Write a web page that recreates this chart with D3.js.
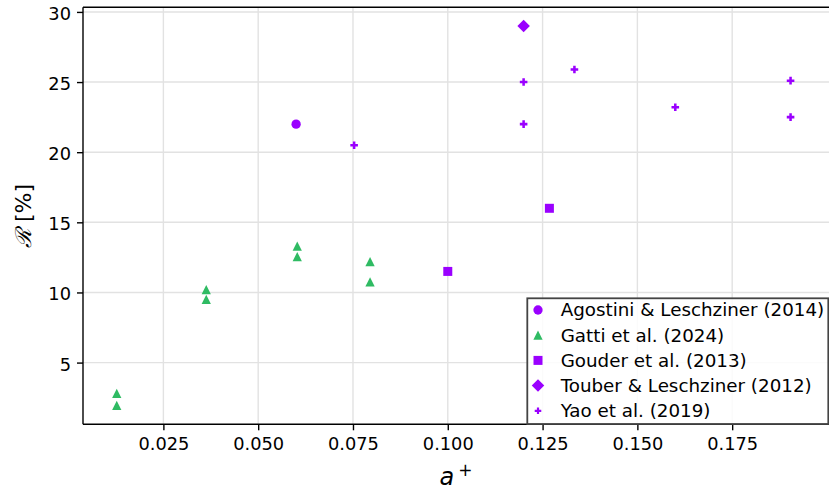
<!DOCTYPE html>
<html>
<head>
<meta charset="utf-8">
<script src="https://cdn.jsdelivr.net/npm/d3@7"></script>
<style>
  body { margin: 0; background: #fff; }
  text { font-family: "DejaVu Sans", sans-serif; fill: #000; }
</style>
</head>
<body>
<div id="chart"></div>
<script>
// drag reduction R [%] against actuation amplitude a+
var agostiniA = [0.060];
var agostiniR = [22.0];

var gattiA = [0.0127, 0.0127, 0.0363, 0.0363, 0.0603, 0.0603, 0.0795, 0.0795];
var gattiR = [2.8, 1.95, 10.2, 9.5, 13.3, 12.55, 12.2, 10.75];

var gouderA = [0.100, 0.1268];
var gouderR = [11.5, 16.0];

var touberA = [0.120];
var touberR = [29.0];

var yaoA = [0.0753, 0.120, 0.120, 0.1334, 0.160, 0.1904, 0.1904];
var yaoR = [20.5, 25.0, 22.0, 25.9, 23.2, 25.1, 22.5];

var xTicks = [0.025, 0.050, 0.075, 0.100, 0.125, 0.150, 0.175];
var yTicks = [5, 10, 15, 20, 25, 30];

var seriesNames = ["Agostini & Leschziner (2014)", "Gatti et al. (2024)",
  "Gouder et al. (2013)", "Touber & Leschziner (2012)", "Yao et al. (2019)"];

var purple = "#9a00ff";
var green = "#2fbb63";

var svgWidth = 829, svgHeight = 490;
var margin = {top: 7.3, right: 829, bottom: 424.3, left: 83};

var svg = d3.select("#chart").append("svg")
    .attr("width", svgWidth)
    .attr("height", svgHeight);

var xScale = d3.scaleLinear().domain([0.0038, 0.2008]).range([margin.left, 830]);
var yScale = d3.scaleLinear().domain([0.6, 30.33]).range([margin.bottom, margin.top]);

// grid
svg.append("g").selectAll("line").data(xTicks).enter().append("line")
    .attr("x1", d => xScale(d)).attr("x2", d => xScale(d))
    .attr("y1", margin.top).attr("y2", margin.bottom)
    .attr("stroke", "#e2e2e2").attr("stroke-width", 1.4);
svg.append("g").selectAll("line").data(yTicks).enter().append("line")
    .attr("x1", margin.left).attr("x2", 830)
    .attr("y1", d => yScale(d)).attr("y2", d => yScale(d))
    .attr("stroke", "#e2e2e2").attr("stroke-width", 1.4);

// axes
var xAxis = d3.axisBottom(xScale).tickValues(xTicks).tickFormat(d3.format(".3f"))
    .tickSizeInner(6).tickSizeOuter(0).tickPadding(6);
var yAxis = d3.axisLeft(yScale).tickValues(yTicks).tickFormat(d3.format("d"))
    .tickSizeInner(6).tickSizeOuter(0).tickPadding(6);

var gx = svg.append("g").attr("transform", `translate(0, ${margin.bottom})`).call(xAxis);
var gy = svg.append("g").attr("transform", `translate(${margin.left}, 0)`).call(yAxis);

[gx, gy].forEach(function(g) {
  g.select(".domain").remove();
  g.selectAll(".tick line").attr("stroke", "#000").attr("stroke-width", 1.4);
  g.selectAll(".tick text").style("font-size", "17.8px").attr("fill", "#000");
});
gx.selectAll(".tick text").attr("dy", "0.76em");
gy.selectAll(".tick text").attr("dy", "0.42em");

// spines
svg.append("line").attr("x1", margin.left).attr("x2", margin.left)
    .attr("y1", margin.top).attr("y2", margin.bottom)
    .attr("stroke", "#000").attr("stroke-width", 1.4);
svg.append("line").attr("x1", margin.left).attr("x2", 830)
    .attr("y1", margin.bottom).attr("y2", margin.bottom)
    .attr("stroke", "#000").attr("stroke-width", 1.4);
svg.append("line").attr("x1", margin.left).attr("x2", 830)
    .attr("y1", margin.top).attr("y2", margin.top)
    .attr("stroke", "#000").attr("stroke-width", 1.4);

// marker shapes
var triangleUp = {
  draw: function(context, size) {
    var h = Math.sqrt(size) / 2;
    context.moveTo(0, -h);
    context.lineTo(h, h);
    context.lineTo(-h, h);
    context.closePath();
  }
};
var shapes = [
  {path: d3.symbol(d3.symbolCircle, 68)(), rot: 0, color: purple},
  {path: d3.symbol(triangleUp, 86)(), rot: 0, color: green},
  {path: d3.symbol(d3.symbolSquare, 81)(), rot: 0, color: purple},
  {path: d3.symbol(d3.symbolSquare, 78)(), rot: 45, color: purple},
  {path: d3.symbol(d3.symbolCross, 32)(), rot: 0, color: purple}
];

var series = [
  {a: agostiniA, r: agostiniR},
  {a: gattiA, r: gattiR},
  {a: gouderA, r: gouderR},
  {a: touberA, r: touberR},
  {a: yaoA, r: yaoR}
];

series.forEach(function(s, i) {
  var pts = s.a.map((a, j) => ({a: a, r: s.r[j]}));
  svg.append("g").selectAll("path").data(pts).enter().append("path")
      .attr("d", shapes[i].path)
      .attr("fill", shapes[i].color)
      .attr("transform", d => `translate(${xScale(d.a)}, ${yScale(d.r)}) rotate(${shapes[i].rot})`);
});

// legend
var legend = svg.append("g");
legend.append("rect")
    .attr("x", 527.3).attr("y", 298.3)
    .attr("width", 301).attr("height", 125.7)
    .attr("fill", "#fff").attr("fill-opacity", 0.85)
    .attr("stroke", "#444").attr("stroke-width", 1.8);

seriesNames.forEach(function(name, i) {
  var ry = 310 + i * 25.2;
  legend.append("path")
      .attr("d", i === 4 ? d3.symbol(d3.symbolCross, 24)() : shapes[i].path)
      .attr("fill", shapes[i].color)
      .attr("transform", `translate(538, ${ry}) rotate(${shapes[i].rot})`);
  legend.append("text")
      .attr("x", 560.7).attr("y", ry + 6.4)
      .style("font-size", "18.3px")
      .text(name);
});

// axis labels
var xl = svg.append("text")
    .attr("x", 456).attr("y", 485)
    .attr("text-anchor", "middle")
    .style("font-size", "24px");
xl.append("tspan").style("font-style", "italic").text("a");
xl.append("tspan").attr("dx", 4).attr("dy", -9).style("font-size", "17px").text("+");

svg.append("text")
    .attr("transform", "translate(31, 216) rotate(-90)")
    .attr("text-anchor", "middle")
    .style("font-size", "22px")
    .html('<tspan style="font-family: \'DejaVu Serif\', serif; font-style: italic">\u211B</tspan> [%]');
</script>
</body>
</html>
